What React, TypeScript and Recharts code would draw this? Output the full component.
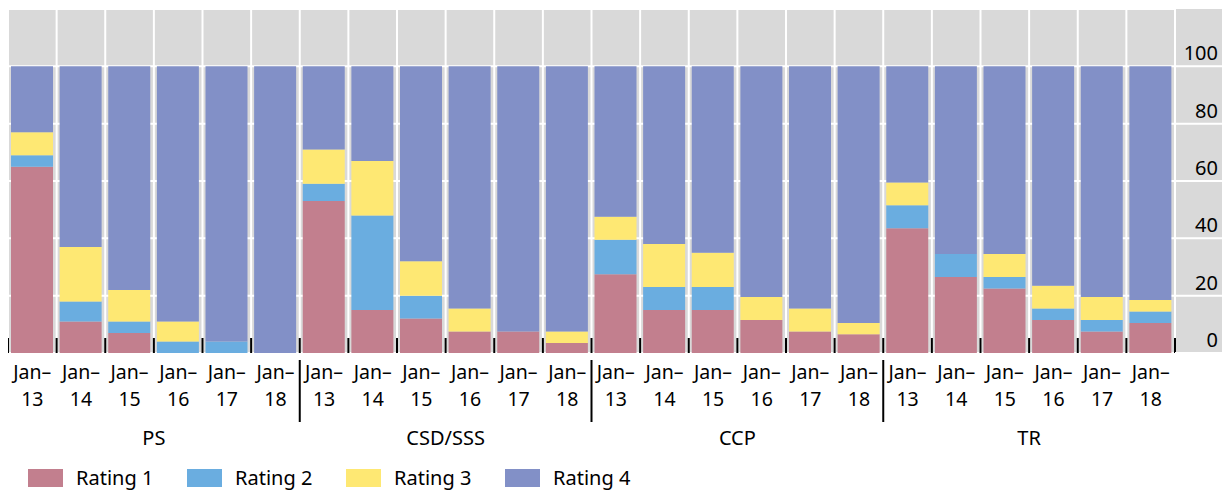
import React from "react";
import { BarChart, Bar, XAxis, YAxis, CartesianGrid } from "recharts";

// categories
const groups = ["PS", "CSD/SSS", "CCP", "TR"];
const years = ["13", "14", "15", "16", "17", "18"];

// share of ratings, per group and year (%)
const rating1 = [65, 11, 7, 0, 0, 0, 53, 15, 12, 7.5, 7.5, 3.5, 27.5, 15, 15, 11.5, 7.5, 6.5, 43.5, 26.5, 22.5, 11.5, 7.5, 10.5];
const rating2 = [4, 7, 4, 4, 4, 0, 6, 33, 8, 0, 0, 0, 12, 8, 8, 0, 0, 0, 8, 8, 4, 4, 4, 4];
const rating3 = [8, 19, 11, 7, 0, 0, 12, 19, 12, 8, 0, 4, 8, 15, 12, 8, 8, 4, 8, 0, 8, 8, 8, 4];
const rating4 = [23, 63, 78, 89, 96, 100, 29, 33, 68, 84.5, 92.5, 92.5, 52.5, 62, 65, 80.5, 84.5, 89.5, 40.5, 65.5, 65.5, 76.5, 80.5, 81.5];

const yTicks = [0, 20, 40, 60, 80, 100];
const seriesNames = ["Rating 1", "Rating 2", "Rating 3", "Rating 4"];

const colors = ["#c27f8e", "#6aade0", "#fee873", "#8290c7"];
const FONT = "'Noto Sans', sans-serif";
const FS = 20;
const TICK_FS = 19.5;

const data = rating1.map((v, i) => ({
  key: `${groups[Math.floor(i / 6)]}-${years[i % 6]}`,
  group: groups[Math.floor(i / 6)],
  year: years[i % 6],
  r1: v,
  r2: rating2[i],
  r3: rating3[i],
  r4: rating4[i],
}));

const W = 1223;
const H = 490;
const TOP = 5;
const X_AXIS_H = 141;
const Y_AXIS_W = 47;
const RIGHT = 9;
const PLOT_W = W - RIGHT - Y_AXIS_W;
const PLOT_H = H - TOP - X_AXIS_H;
const BAND = PLOT_W / data.length;

const XTick = (props: any) => {
  const { x, y, index } = props;
  const d = data[index];
  if (!d) return null;
  const left = x - BAND / 2;
  return (
    <g>
      <line x1={left} x2={left} y1={y - 15} y2={y} stroke="#000" strokeWidth={2} />
      {index === data.length - 1 && (
        <line x1={left + BAND} x2={left + BAND} y1={y - 15} y2={y} stroke="#000" strokeWidth={2} />
      )}
      {index % 6 === 0 && index > 0 && (
        <line x1={left} x2={left} y1={y + 7} y2={y + 69} stroke="#000" strokeWidth={2} />
      )}
      <text x={x} y={y + 26} textAnchor="middle" fontSize={TICK_FS} fill="#000" fontFamily={FONT}>
        Jan–
      </text>
      <text x={x} y={y + 53} textAnchor="middle" fontSize={TICK_FS} fill="#000" fontFamily={FONT}>
        {d.year}
      </text>
      {index % 6 === 2 && (
        <text x={left + BAND} y={y + 92} textAnchor="middle" fontSize={FS} fill="#000" fontFamily={FONT}>
          {d.group}
        </text>
      )}
    </g>
  );
};

const YTick = (props: any) => {
  const { x, y, payload } = props;
  return (
    <g>
      <line x1={x} x2={x + Y_AXIS_W} y1={y} y2={y} stroke="#fff" strokeWidth={2} />
      <text x={x + 43} y={y - 6} textAnchor="end" fontSize={FS} fill="#000" fontFamily={FONT}>
        {payload.value}
      </text>
    </g>
  );
};

export default function App() {
  return (
    <div style={{ position: "relative", width: W, height: H, marginTop: -4, fontFamily: FONT }}>
      <div style={{ position: "absolute", left: 0, top: 2, width: W, height: 2, background: "#000" }} />
      <div
        style={{
          position: "absolute",
          left: 0,
          top: TOP,
          width: PLOT_W + Y_AXIS_W,
          height: PLOT_H,
          background: "#d9d9d9",
        }}
      />
      <BarChart
        width={W}
        height={H}
        data={data}
        margin={{ top: TOP, right: RIGHT, left: 0, bottom: 0 }}
        barSize={42}
      >
        <CartesianGrid
          stroke="#fff"
          strokeWidth={2}
          verticalCoordinatesGenerator={({ offset }: any) =>
            Array.from({ length: data.length + 1 }, (_, i) => offset.left + (i * offset.width) / data.length)
          }
        />
        <XAxis
          dataKey="key"
          interval={0}
          height={X_AXIS_H}
          axisLine={false}
          tickLine={false}
          tickSize={0}
          tickMargin={0}
          tick={<XTick />}
        />
        <YAxis
          orientation="right"
          width={Y_AXIS_W}
          domain={[0, 120]}
          ticks={yTicks}
          axisLine={false}
          tickLine={false}
          tickSize={0}
          tickMargin={0}
          tick={<YTick />}
        />
        <Bar dataKey="r1" name={seriesNames[0]} stackId="a" fill={colors[0]} isAnimationActive={false} />
        <Bar dataKey="r2" name={seriesNames[1]} stackId="a" fill={colors[1]} isAnimationActive={false} />
        <Bar dataKey="r3" name={seriesNames[2]} stackId="a" fill={colors[2]} isAnimationActive={false} />
        <Bar dataKey="r4" name={seriesNames[3]} stackId="a" fill={colors[3]} isAnimationActive={false} />
      </BarChart>
      <div style={{ position: "absolute", left: 20, top: 465, display: "flex" }}>
        {seriesNames.map((n, i) => (
          <div key={n} style={{ display: "flex", alignItems: "center", width: 159, fontSize: FS }}>
            <div style={{ width: 35, height: 18, background: colors[i], marginRight: 13 }} />
            <span style={{ lineHeight: "18px" }}>{n}</span>
          </div>
        ))}
      </div>
    </div>
  );
}
